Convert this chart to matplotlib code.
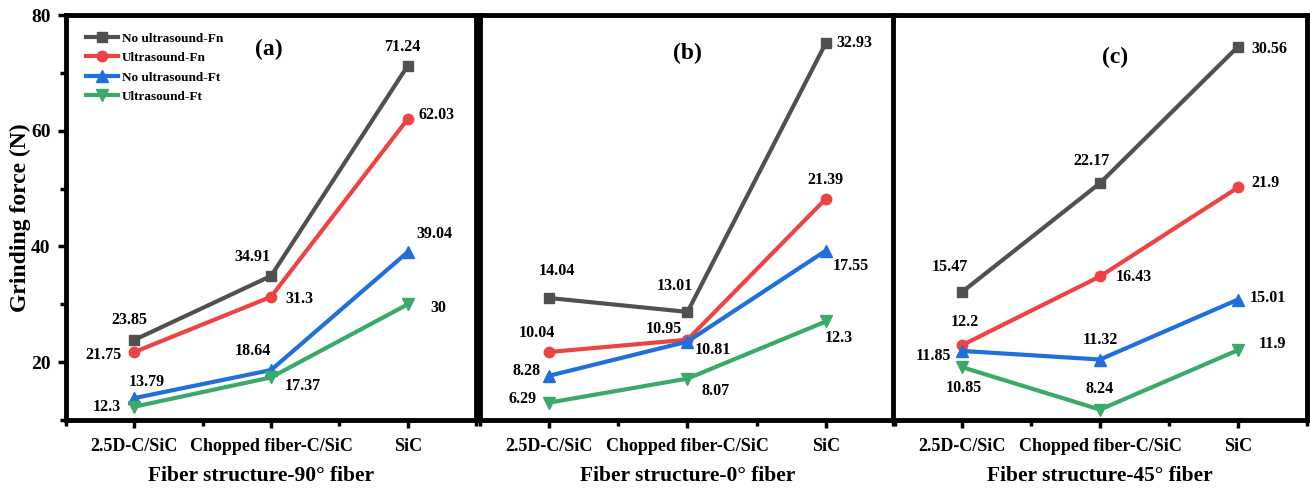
import matplotlib.pyplot as plt
from matplotlib.ticker import MultipleLocator, FixedLocator

plt.rcParams['font.family'] = ['Liberation Serif', 'DejaVu Serif']
plt.rcParams['font.weight'] = 'bold'

materials = ['2.5D-C/SiC', 'Chopped fiber-C/SiC', 'SiC']
series_names = ['No ultrasound-Fn', 'Ultrasound-Fn', 'No ultrasound-Ft', 'Ultrasound-Ft']

# grinding force (N), 90 degree fiber
fn_no_90 = [23.85, 34.91, 71.24]
fn_us_90 = [21.75, 31.3, 62.03]
ft_no_90 = [13.79, 18.64, 39.04]
ft_us_90 = [12.3, 17.37, 30]

# 0 degree fiber
fn_no_0 = [14.04, 13.01, 32.93]
fn_us_0 = [10.04, 10.95, 21.39]
ft_no_0 = [8.28, 10.81, 17.55]
ft_us_0 = [6.29, 8.07, 12.3]

# 45 degree fiber
fn_no_45 = [15.47, 22.17, 30.56]
fn_us_45 = [12.2, 16.43, 21.9]
ft_no_45 = [11.85, 11.32, 15.01]
ft_us_45 = [10.85, 8.24, 11.9]

colors = ['#505050', '#ee4343', '#1f6fdc', '#3aaa6a']
markers = ['s', 'o', '^', 'v']
msizes = [7, 7.5, 8.5, 8.5]

# label offsets in pixels (dx, dy downwards, alignment) for each series / point
offs_90 = [
    [(-5, -20, 'center'), (-19, -19, 'center'), (-5, -19, 'center')],
    [(-13, 3, 'right'), (14, 2, 'left'), (11, -4, 'left')],
    [(12, -16, 'center'), (-18, -19, 'center'), (27, -18, 'center')],
    [(-14, 0, 'right'), (14, 9, 'left'), (31, 4, 'center')],
]
offs_0 = [
    [(8, -27, 'center'), (-13, -26, 'center'), (11, 0, 'left')],
    [(-12, -19, 'center'), (-24, -11, 'center'), (0, -19, 'center')],
    [(-9, -5, 'right'), (25, 8, 'center'), (25, 15, 'center')],
    [(-13, -4, 'right'), (28, 12, 'center'), (13, 17, 'center')],
]
offs_45 = [
    [(-12, -25, 'center'), (-9, -22, 'center'), (13, 2, 'left')],
    [(3, -23, 'center'), (16, 1, 'left'), (13, -4, 'left')],
    [(-11, 5, 'right'), (0, -20, 'center'), (12, -2, 'left')],
    [(2, 21, 'center'), (0, -21, 'center'), (34, -6, 'center')],
]

panels = [
    ([fn_no_90, fn_us_90, ft_no_90, ft_us_90], offs_90, (10, 80), '(a)',
     'Fiber structure-90° fiber', 0.475, [0.0504, 0.1463, 0.313, 0.823], (0.495, 0.916)),
    ([fn_no_0, fn_us_0, ft_no_0, ft_us_0], offs_0, (5, 35), '(b)',
     'Fiber structure-0° fiber', 0.5, [0.3664, 0.1463, 0.3168, 0.823], (0.499, 0.906)),
    ([fn_no_45, fn_us_45, ft_no_45, ft_us_45], offs_45, (7.6, 32.5), '(c)',
     'Fiber structure-45° fiber', 0.5, [0.6817, 0.1463, 0.316, 0.823], (0.536, 0.896)),
]

fig = plt.figure(figsize=(13.1, 4.92), dpi=100)
x = [1, 2, 3]

for i, (series, offs, ylim, tag, xlabel, xlab_x, rect, tagpos) in enumerate(panels):
    ax = fig.add_axes(rect)
    for vals, off, name, c, m, ms in zip(series, offs, series_names, colors, markers, msizes):
        ax.plot(x, vals, color=c, marker=m, markersize=ms, lw=3, label=name)
        for xi, v, (dx, dy, ha) in zip(x, vals, off):
            ax.annotate(f'{v:g}', (xi, v), xytext=(dx, -dy), textcoords='offset pixels',
                        ha=ha, va='center', fontsize=11.5, fontweight='bold')

    ax.set_xlim(0.5, 3.5)
    ax.set_ylim(*ylim)
    ax.xaxis.set_major_locator(FixedLocator(x))
    ax.xaxis.set_minor_locator(FixedLocator([0.5, 1.5, 2.5, 3.5]))
    ax.set_xticklabels(materials, fontsize=13, fontweight='bold')
    ax.tick_params(axis='x', which='major', direction='out', length=6, width=2.5, pad=7)
    ax.tick_params(axis='x', which='minor', direction='out', length=4, width=2.5)
    ax.set_xlabel(xlabel, fontsize=15.5, fontweight='bold', labelpad=8, x=xlab_x)

    if i == 0:
        ax.yaxis.set_major_locator(MultipleLocator(20))
        ax.yaxis.set_minor_locator(MultipleLocator(10))
        ax.tick_params(axis='y', which='major', direction='out', length=6, width=2.5,
                       labelsize=14, pad=5)
        ax.tick_params(axis='y', which='minor', direction='out', length=4, width=2.5)
        ax.set_ylabel('Grinding force (N)', fontsize=17, fontweight='bold', labelpad=0)
        ax.legend(loc='upper left', bbox_to_anchor=(0.03, 0.977), frameon=False,
                  prop={'size': 9.5, 'weight': 'bold'}, handlelength=2.4,
                  handletextpad=0.3, labelspacing=0.55, borderaxespad=0.2)
    else:
        ax.set_yticks([])

    for sp in ax.spines.values():
        sp.set_linewidth(3.5)

    ax.text(tagpos[0], tagpos[1], tag, transform=ax.transAxes, ha='center', va='center',
            fontsize=17, fontweight='bold')

fig.savefig('out.png', dpi=100)
